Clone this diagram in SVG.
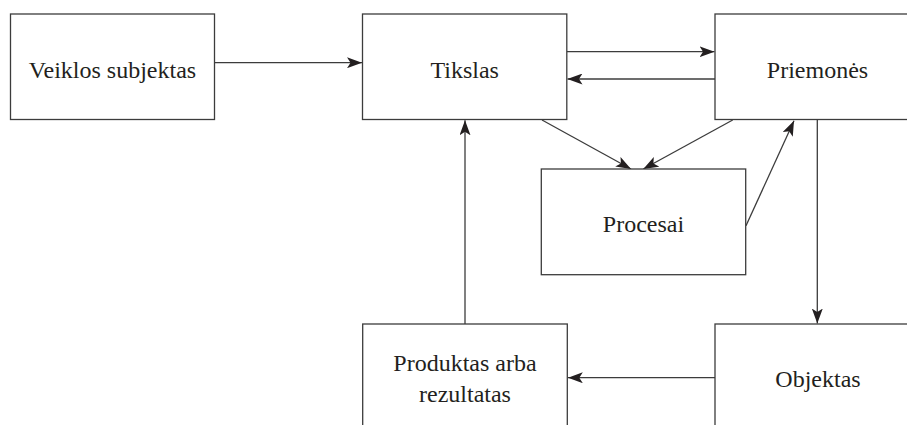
<svg xmlns="http://www.w3.org/2000/svg" width="907" height="425" viewBox="0 0 907 425">
<style>
.box{fill:#fff;stroke:#3c3c3c;stroke-width:1.3}
.lbl{font-family:"Liberation Serif",serif;font-size:24px;fill:#231f20;text-anchor:middle}
.con{fill:none;stroke:#3c3c3c;stroke-width:1.3}
</style>
<defs>
<marker id="ah" viewBox="0 0 15 11" refX="15" refY="5.5" markerWidth="15" markerHeight="11" markerUnits="userSpaceOnUse" orient="auto">
<path d="M0,0 L15,5.5 L0,11 L3.5,5.5 Z" fill="#231f20"/>
</marker>
</defs>
<rect width="907" height="425" fill="#fff"/>
<g id="connectors">
<line class="con" x1="214.5" y1="62.7" x2="362" y2="62.7" marker-end="url(#ah)"/>
<line class="con" x1="567" y1="51.7" x2="714.5" y2="51.7" marker-end="url(#ah)"/>
<line class="con" x1="715" y1="79" x2="567.5" y2="79" marker-end="url(#ah)"/>
<line class="con" x1="542" y1="120" x2="631" y2="169" marker-end="url(#ah)"/>
<line class="con" x1="732.7" y1="120" x2="643.3" y2="169" marker-end="url(#ah)"/>
<line class="con" x1="746" y1="225.7" x2="794" y2="120.7" marker-end="url(#ah)"/>
<line class="con" x1="817.3" y1="120" x2="817.3" y2="323.5" marker-end="url(#ah)"/>
<line class="con" x1="715" y1="377.7" x2="567.8" y2="377.7" marker-end="url(#ah)"/>
<line class="con" x1="465" y1="324" x2="465" y2="120.3" marker-end="url(#ah)"/>
</g>
<g id="veiklos">
<rect class="box" x="10.5" y="14" width="204" height="105.5"/>
<text class="lbl" x="112.5" y="78">Veiklos subjektas</text>
</g>
<g id="tikslas">
<rect class="box" x="362.5" y="14" width="204.3" height="105.5"/>
<text class="lbl" x="464.7" y="78">Tikslas</text>
</g>
<g id="priemones">
<rect class="box" x="715" y="14" width="215" height="105.5"/>
<text class="lbl" x="817.5" y="77.5">Priemonės</text>
</g>
<g id="procesai">
<rect class="box" x="541.3" y="169" width="204.4" height="105.7"/>
<text class="lbl" x="643.5" y="231.7">Procesai</text>
</g>
<g id="produktas">
<rect class="box" x="362.7" y="324" width="204.6" height="120"/>
<text class="lbl" x="465" y="371">Produktas arba</text>
<text class="lbl" x="465" y="402">rezultatas</text>
</g>
<g id="objektas">
<rect class="box" x="715" y="324" width="215" height="120"/>
<text class="lbl" x="818" y="387.3">Objektas</text>
</g>
</svg>
